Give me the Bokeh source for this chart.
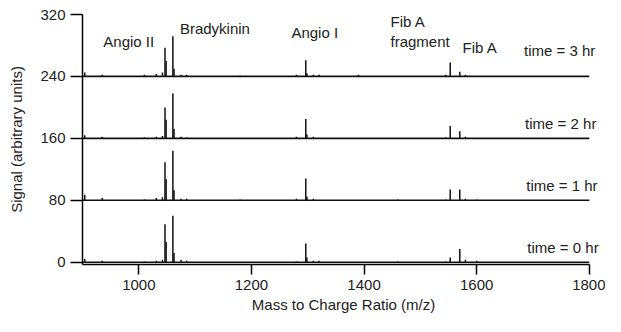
from bokeh.plotting import figure
from bokeh.models import Range1d, Label, FixedTicker
from bokeh.embed import file_html
from bokeh.resources import INLINE

# ---------------- data ----------------
MZ_START, MZ_END = 900, 1800
Y_TICKS = [0, 80, 160, 240, 320]
X_TICKS = [1000, 1200, 1400, 1600, 1800]

OFFSETS = [0, 80, 160, 240]
TIME_LABELS = ["time = 0 hr", "time = 1 hr", "time = 2 hr", "time = 3 hr"]

# peak positions (m/z)
PEAK_MZ = [904, 935, 1010, 1031, 1042, 1046.5, 1048.5, 1060.5, 1062.5, 1075, 1085,
           1180, 1280, 1296.5, 1298.5, 1310, 1320, 1390, 1460, 1545, 1553, 1570,
           1580, 1600]
# peak heights above each trace's baseline
h_t0 = [4, 2, 1, 2, 3, 49, 26, 60, 12, 3, 2, 0, 1, 24, 6, 2, 2, 0, 1, 1, 6, 17, 3, 2]
h_t1 = [7, 3, 1, 3, 4, 49, 27, 64, 13, 2, 2, 1, 2, 28, 5, 2, 0, 0, 1, 1, 14, 14, 2, 1]
h_t2 = [4, 2, 1, 2, 3, 40, 24, 58, 12, 2, 1, 0, 2, 25, 5, 2, 0, 0, 0, 1, 16, 9, 2, 0]
h_t3 = [5, 2, 2, 3, 5, 37, 20, 52, 10, 2, 2, 1, 2, 21, 4, 2, 2, 2, 0, 2, 18, 6, 2, 0]
HEIGHTS = [h_t0, h_t1, h_t2, h_t3]

PEAK_NAMES = ["Angio II", "Bradykinin", "Angio I", "Fib A", "fragment", "Fib A"]

# ---------------- figure ----------------
FONT = "Liberation Sans"
p = figure(width=605, height=316, output_backend="svg", toolbar_location=None,
           x_range=Range1d(MZ_START, 1827), y_range=Range1d(-3, 320),
           min_border_left=82, min_border_right=1, min_border_top=14,
           min_border_bottom=52)
p.outline_line_color = None
p.grid.visible = False
p.background_fill_color = "white"

INK = "#111111"
for off, hs in zip(OFFSETS, HEIGHTS):
    p.line([MZ_START, MZ_END], [off, off], line_color=INK, line_width=1.6)
    p.segment(x0=PEAK_MZ, y0=[off] * len(PEAK_MZ), x1=PEAK_MZ,
              y1=[off + h for h in hs], line_color=INK, line_width=1.5,
              line_cap="butt")

for ax in (p.xaxis[0], p.yaxis[0]):
    ax.axis_line_color = "black"
    ax.axis_line_width = 1.5
    ax.major_tick_line_color = "black"
    ax.major_tick_line_width = 1.5
    ax.major_tick_in = 0
    ax.minor_tick_line_color = None
    ax.major_label_text_font = FONT
    ax.major_label_text_font_size = "15px"
    ax.major_label_text_color = "#222222"
    ax.axis_label_text_font = FONT
    ax.axis_label_text_font_size = "15px"
    ax.axis_label_text_font_style = "normal"
    ax.axis_label_text_color = "#222222"

p.xaxis.bounds = (MZ_START, MZ_END)
p.yaxis.bounds = (-3, 320)
p.xaxis.ticker = FixedTicker(ticks=X_TICKS)
p.yaxis.ticker = FixedTicker(ticks=Y_TICKS)
p.xaxis.major_tick_out = 10
p.yaxis.major_tick_out = 12
p.xaxis.major_label_standoff = 5
p.yaxis.major_label_standoff = 5
p.xaxis.axis_label = "Mass to Charge Ratio (m/z)"
p.yaxis.axis_label = "Signal (arbitrary units)"
p.xaxis.axis_label_standoff = 3
p.yaxis.axis_label_standoff = 12

label_pos = [(937, 285), (1073, 302), (1271, 297), (1447, 311), (1447, 285), (1575, 277)]
for txt, (lx, ly) in zip(PEAK_NAMES, label_pos):
    p.add_layout(Label(x=lx, y=ly, text=txt, text_font=FONT, text_font_size="15px",
                       text_color="#222222", text_baseline="middle", text_align="left"))

time_pos = [(1690, 19), (1688, 99), (1686, 179), (1684, 274)]
for txt, (lx, ly) in zip(TIME_LABELS, time_pos):
    p.add_layout(Label(x=lx, y=ly, text=txt, text_font=FONT, text_font_size="15px",
                       text_color="#222222", text_baseline="middle", text_align="left"))

open("out.html", "w").write(file_html(p, INLINE))
